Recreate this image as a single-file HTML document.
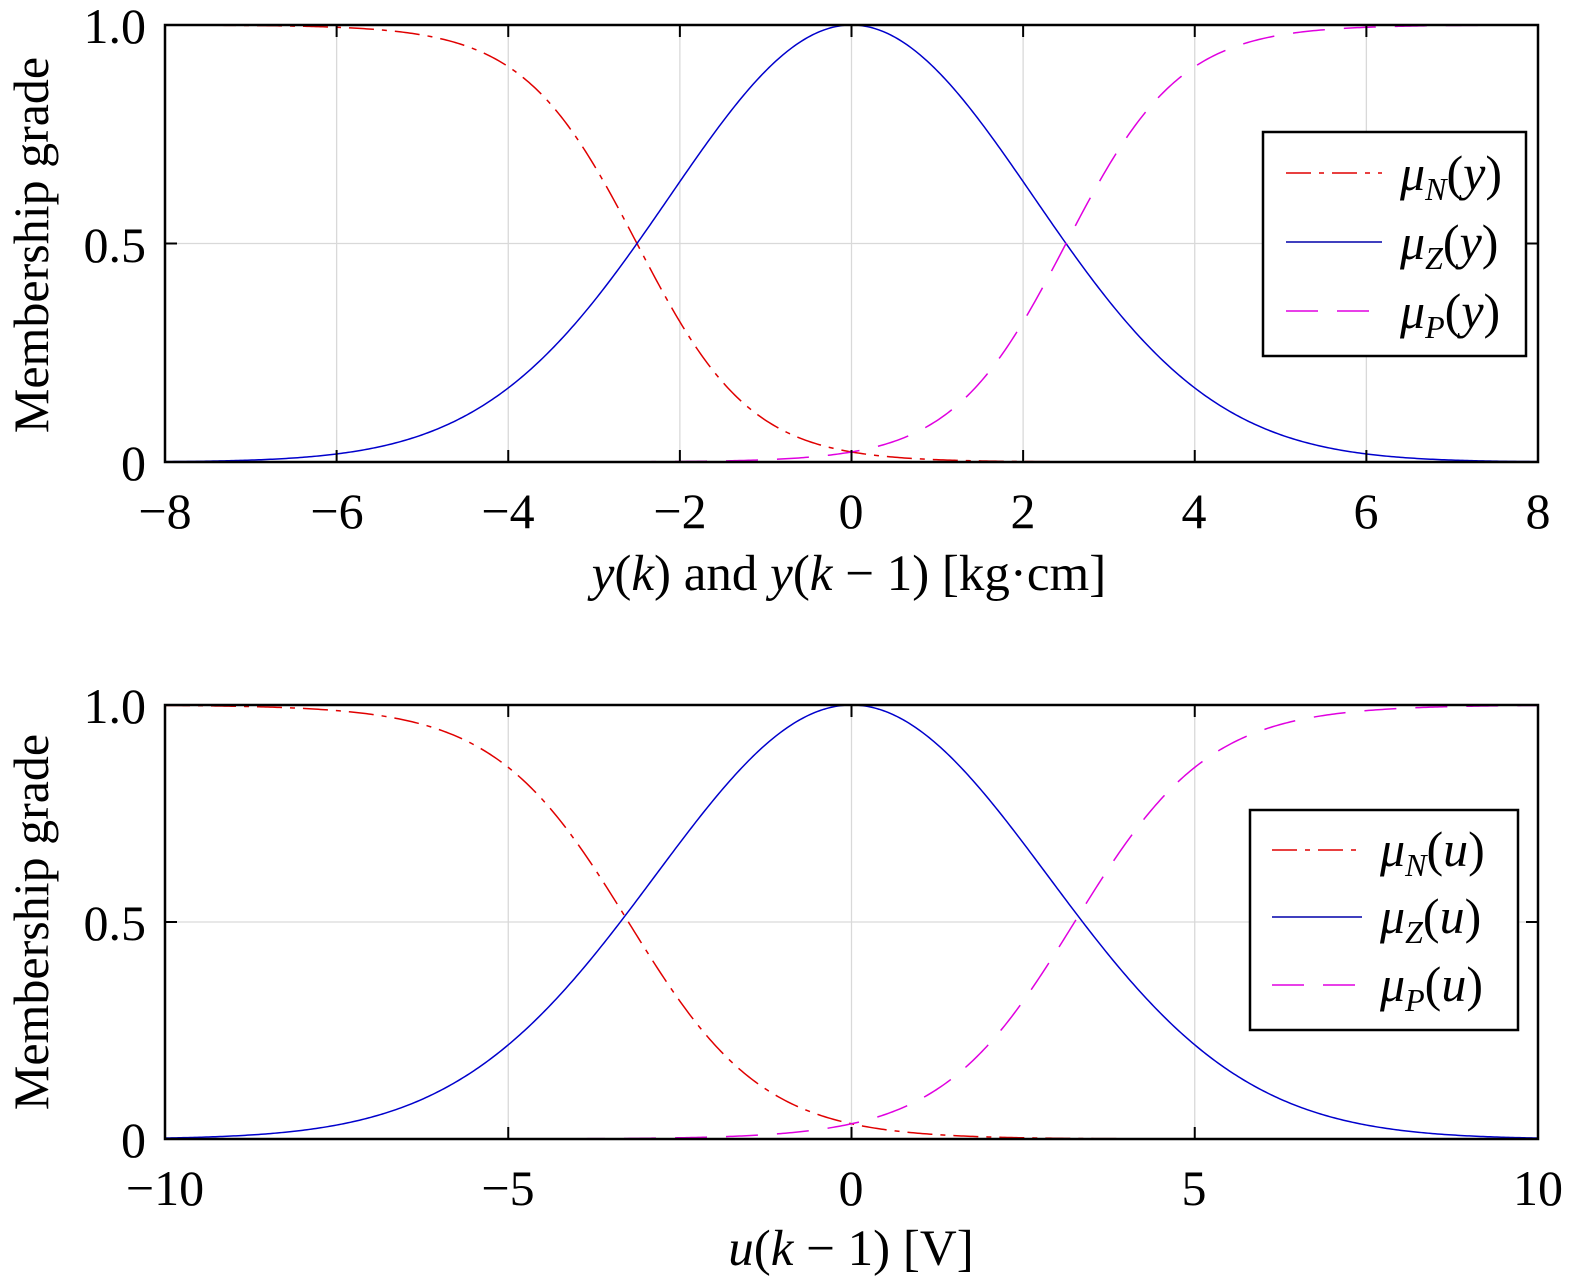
<!DOCTYPE html>
<html><head><meta charset="utf-8">
<style>
body{margin:0;background:#fff;}
svg{display:block;font-family:"Liberation Serif",serif;}
</style></head>
<body>
<svg id="s" width="1575" height="1288" xmlns="http://www.w3.org/2000/svg">
<rect width="1575" height="1288" fill="#fff"/>
<g id="g"></g>
<g font-size="50" fill="#000">
<text x="146" y="480" text-anchor="end">0</text>
<text x="146" y="262" text-anchor="end">0.5</text>
<text x="146" y="43" text-anchor="end">1.0</text>
<text x="165" y="528" text-anchor="middle">−8</text>
<text x="337" y="528" text-anchor="middle">−6</text>
<text x="508" y="528" text-anchor="middle">−4</text>
<text x="680" y="528" text-anchor="middle">−2</text>
<text x="851" y="528" text-anchor="middle">0</text>
<text x="1023" y="528" text-anchor="middle">2</text>
<text x="1194" y="528" text-anchor="middle">4</text>
<text x="1366" y="528" text-anchor="middle">6</text>
<text x="1538" y="528" text-anchor="middle">8</text>
<text x="849" y="590" text-anchor="middle" font-size="51"><tspan font-style="italic">y</tspan>(<tspan font-style="italic">k</tspan>) and <tspan font-style="italic">y</tspan>(<tspan font-style="italic">k</tspan> − 1) [kg·cm]</text>
<text transform="translate(48,245) rotate(-90)" text-anchor="middle">Membership grade</text>

<text x="146" y="1157" text-anchor="end">0</text>
<text x="146" y="940" text-anchor="end">0.5</text>
<text x="146" y="723" text-anchor="end">1.0</text>
<text x="165" y="1205" text-anchor="middle">−10</text>
<text x="508" y="1205" text-anchor="middle">−5</text>
<text x="851" y="1205" text-anchor="middle">0</text>
<text x="1194" y="1205" text-anchor="middle">5</text>
<text x="1538" y="1205" text-anchor="middle">10</text>
<text x="851" y="1265" text-anchor="middle" font-size="51"><tspan font-style="italic">u</tspan>(<tspan font-style="italic">k</tspan> − 1) [V]</text>
<text transform="translate(48,922) rotate(-90)" text-anchor="middle">Membership grade</text>
</g>
<g>
<rect x="1263" y="132" width="263" height="224" fill="#fff" stroke="#000" stroke-width="2.5"/>
<line x1="1286" y1="173" x2="1382" y2="173" stroke="#e00000" stroke-width="1.6" stroke-dasharray="25,8,5,8"/>
<line x1="1286" y1="242" x2="1382" y2="242" stroke="#0000aa" stroke-width="1.6"/>
<line x1="1286" y1="311" x2="1382" y2="311" stroke="#e000e0" stroke-width="1.6" stroke-dasharray="32,19"/>
<g font-size="50" font-style="italic">
<text x="1400" y="190">μ<tspan font-size="32" dy="10">N</tspan><tspan dy="-10" font-style="normal">(</tspan>y<tspan font-style="normal">)</tspan></text>
<text x="1400" y="259">μ<tspan font-size="32" dy="10">Z</tspan><tspan dy="-10" font-style="normal">(</tspan>y<tspan font-style="normal">)</tspan></text>
<text x="1400" y="328">μ<tspan font-size="32" dy="10">P</tspan><tspan dy="-10" font-style="normal">(</tspan>y<tspan font-style="normal">)</tspan></text>
</g>
<rect x="1250" y="810" width="268" height="220" fill="#fff" stroke="#000" stroke-width="2.5"/>
<line x1="1272" y1="850" x2="1362" y2="850" stroke="#e00000" stroke-width="1.6" stroke-dasharray="25,8,5,8"/>
<line x1="1272" y1="917" x2="1362" y2="917" stroke="#0000aa" stroke-width="1.6"/>
<line x1="1272" y1="985" x2="1362" y2="985" stroke="#e000e0" stroke-width="1.6" stroke-dasharray="32,19"/>
<g font-size="50" font-style="italic">
<text x="1380" y="866">μ<tspan font-size="32" dy="10">N</tspan><tspan dy="-10" font-style="normal">(</tspan>u<tspan font-style="normal">)</tspan></text>
<text x="1380" y="933">μ<tspan font-size="32" dy="10">Z</tspan><tspan dy="-10" font-style="normal">(</tspan>u<tspan font-style="normal">)</tspan></text>
<text x="1380" y="1001">μ<tspan font-size="32" dy="10">P</tspan><tspan dy="-10" font-style="normal">(</tspan>u<tspan font-style="normal">)</tspan></text>
</g>
</g>
</svg>
<script>
(function(){
var NS="http://www.w3.org/2000/svg",g=document.getElementById('g');
function el(n,a,p){var e=document.createElementNS(NS,n);for(var k in a)e.setAttribute(k,a[k]);(p||g).appendChild(e);return e;}
function panel(x0,x1,y0,y1,xmin,xmax,grid,sig,a,c){
 var sx=function(v){return x0+(v-xmin)/(xmax-xmin)*(x1-x0);},sy=function(v){return y1-v*(y1-y0);};
 grid.forEach(function(v){el('line',{x1:sx(v),x2:sx(v),y1:y0,y2:y1,stroke:'#d9d9d9','stroke-width':1.3});});
 el('line',{x1:x0,x2:x1,y1:sy(0.5),y2:sy(0.5),stroke:'#d9d9d9','stroke-width':1.3});
 var fs=[function(x){return 1/(1+Math.exp(a*(x-c)));},function(x){return Math.exp(-x*x/(2*sig*sig));},function(x){return 1/(1+Math.exp(-a*(x+c)));}];
 var st=[['#e00000','25,8,5,8'],['#0000cc',''],['#e000e0','32,19']];
 fs.forEach(function(f,i){var d='';for(var k=0;k<=600;k++){var x=xmin+(xmax-xmin)*k/600;d+=(k?'L':'M')+sx(x).toFixed(2)+','+sy(f(x)).toFixed(2);}
  var at={d:d,fill:'none',stroke:st[i][0],'stroke-width':1.5};if(st[i][1])at['stroke-dasharray']=st[i][1];el('path',at);});
 grid.forEach(function(v){el('line',{x1:sx(v),x2:sx(v),y1:y1,y2:y1-12,stroke:'#000','stroke-width':2});el('line',{x1:sx(v),x2:sx(v),y1:y0,y2:y0+12,stroke:'#000','stroke-width':2});});
 el('line',{x1:x0,x2:x0+12,y1:sy(0.5),y2:sy(0.5),stroke:'#000','stroke-width':2});
 el('line',{x1:x1,x2:x1-12,y1:sy(0.5),y2:sy(0.5),stroke:'#000','stroke-width':2});
 el('rect',{x:x0,y:y0,width:x1-x0,height:y1-y0,fill:'none',stroke:'#000','stroke-width':2.5});
}
panel(165,1538,25,462,-8,8,[-6,-4,-2,0,2,4,6],2.123,1.5,-2.5);
panel(165,1538,705,1139,-10,10,[-5,0,5],2.86,1.02,-3.25);
})();
</script>
</body></html>
